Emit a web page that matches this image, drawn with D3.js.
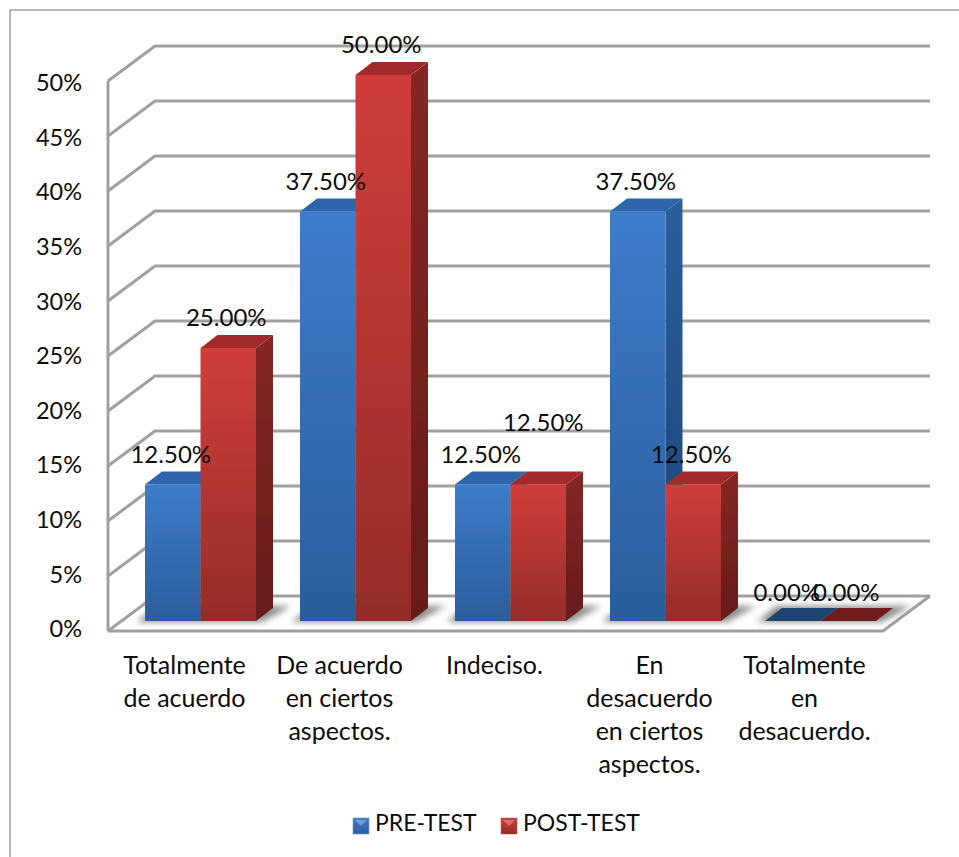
<!DOCTYPE html>
<html><head><meta charset="utf-8">
<script src="https://cdnjs.cloudflare.com/ajax/libs/d3/7.8.5/d3.min.js"></script>
<style>html,body{margin:0;padding:0;background:#fff}svg{display:block}text{font-family:Lato,"Open Sans",sans-serif;fill:#0c0c0c}</style>
</head><body><div id="c"></div>
<script>
const categories=[["Totalmente","de acuerdo"],["De acuerdo","en ciertos","aspectos."],["Indeciso."],["En","desacuerdo","en ciertos","aspectos."],["Totalmente","en","desacuerdo."]];
const seriesNames=["PRE-TEST","POST-TEST"];
const preTest=[12.5,37.5,12.5,37.5,0];
const postTest=[25,50,12.5,12.5,0];
const yTicks=[0,5,10,15,20,25,30,35,40,45,50];
const W=959,H=857,dx=17,dy=13;
const svg=d3.select("#c").append("svg").attr("width",W).attr("height",H);
const defs=svg.append("defs");
function grad(id,c1,c2){const g=defs.append("linearGradient").attr("id",id).attr("x1",0).attr("y1",0).attr("x2",0).attr("y2",1);
 g.append("stop").attr("offset","0%").attr("stop-color",c1);g.append("stop").attr("offset","100%").attr("stop-color",c2);}
grad("g0","#3e7cca","#2b5d9c");grad("g1","#d03e3b","#952c29");
grad("s0","#2a5f9e","#1d4472");grad("s1","#862825","#661b19");
defs.append("filter").attr("id","blur").attr("x","-20%").attr("y","-80%").attr("width","140%").attr("height","260%").append("feGaussianBlur").attr("stdDeviation",3);
defs.append("filter").attr("id","soft").attr("x","-5%").attr("y","-5%").attr("width","110%").attr("height","110%").append("feGaussianBlur").attr("stdDeviation",0.6);
defs.append("filter").attr("id","softer").attr("x","-5%").attr("y","-5%").attr("width","110%").attr("height","110%").append("feGaussianBlur").attr("stdDeviation",0.4);

const frontX=108,frontW=775,backDX=47,backDY=35;
const yFront=d3.scaleLinear().domain([0,50]).range([631,81]);
const yLabel=d3.scaleLinear().domain([0,50]).range([629,83]);
const yBar=d3.scaleLinear().domain([0,50]).range([621,75]);
const names=categories.map(c=>c.join(" "));
const x0=d3.scaleBand().domain(names).range([123,898]).paddingInner(44/155).paddingOuter(22/155);
const x1=d3.scaleBand().domain(seriesNames).range([0,x0.bandwidth()]);

// border
svg.append("path").attr("d",`M10,857V10H959`).attr("fill","none").attr("stroke","#a3a3a3").attr("stroke-width",1.6);

// walls / gridlines
const grid=svg.append("g").attr("fill","none").attr("stroke","#a0a0a0").attr("stroke-width",3).attr("filter","url(#soft)");
yTicks.forEach(t=>{const y=yFront(t);
 grid.append("path").attr("d",`M${frontX},${y}L${frontX+backDX},${y-backDY}H${frontX+frontW+backDX}`);});
grid.append("path").attr("d",`M${frontX},${yFront(0)}V${yFront(50)}`);
grid.append("path").attr("d",`M${frontX},${yFront(0)}H${frontX+frontW}L${frontX+frontW+backDX},${yFront(0)-backDY}`);

// y labels
svg.append("g").selectAll("text").data(yTicks).join("text").attr("x",82).attr("y",d=>yLabel(d)).attr("dy","0.35em")
 .attr("text-anchor","end").style("font-size","23.5px").text(d=>d+"%");

// floor shadows
const shadows=svg.append("g").attr("filter","url(#blur)");
names.forEach(n=>{const l=x0(n),w=x0.bandwidth();
 shadows.append("path").attr("fill","#8c8c8c").attr("d",`M${l-8},622H${l+w+6}L${l+w+dx+18},${621-dy-2}H${l+dx-6}Z`);});

// bars
const bars=svg.append("g").attr("filter","url(#softer)");
[preTest,postTest].forEach((vals,si)=>{
 const s=seriesNames[si];
 names.forEach((n,i)=>{
  const l=x0(n)+x1(s),w=x1.bandwidth(),v=vals[i],t=yBar(v),b=yBar(0);
  const g=bars.append("g");
  if(v>0){
   g.append("path").attr("fill",`url(#s${si})`).attr("d",`M${l+w},${t}L${l+w+dx},${t-dy}V${b-dy}L${l+w},${b}Z`);
   g.append("path").attr("fill",si?"#a32c29":"#2f66ab").attr("d",`M${l},${t}L${l+dx},${t-dy}H${l+w+dx}L${l+w},${t}Z`);
   g.append("rect").attr("x",l).attr("y",t).attr("width",w).attr("height",b-t).attr("fill",`url(#g${si})`);
  } else {
   g.append("path").attr("fill",si?"#6f1f1d":"#1d4472").attr("d",`M${l},${b}L${l+dx},${b-dy}H${l+w+dx}L${l+w},${b}Z`);
  }
 });
});

// labels
const labelNudge={"1-2":[6,-32],"0-4":[-5,2],"1-4":[-1,2]};
const labels=svg.append("g");
[preTest,postTest].forEach((vals,si)=>{
 names.forEach((n,i)=>{
  const [nx,ny]=labelNudge[si+"-"+i]||[-1,0];
  labels.append("text").attr("x",x0(n)+x1(seriesNames[si])+x1.bandwidth()/2+nx-1).attr("y",yBar(vals[i])-30+ny).attr("dy","0.35em")
   .attr("text-anchor","middle").style("font-size","24px").text(vals[i].toFixed(2)+"%");
 });
});

// category labels
const cat=svg.append("g");
categories.forEach((lines,i)=>{
 const cx=x0(names[i])+x0.bandwidth()/2-16;
 lines.forEach((ln,j)=>cat.append("text").attr("x",cx).attr("y",665+j*33).attr("dy","0.35em").attr("text-anchor","middle").style("font-size","25px").text(ln));
});

// legend
const legend=svg.append("g");
[[353,375],[501,523]].forEach(([bx,tx],i)=>{
 legend.append("rect").attr("x",bx).attr("y",818).attr("width",16).attr("height",16).attr("fill",`url(#g${i})`).attr("stroke",i?"#b5605e":"#6f93bf").attr("stroke-width",.6);
 legend.append("path").attr("d",`M${bx+2},820H${bx+14}L${bx+8},826Z`).attr("fill","#fff").attr("opacity",.3);
 legend.append("text").attr("x",tx).attr("y",823).attr("dy","0.35em").style("font-size","23px").text(seriesNames[i]);
});
</script></body></html>
